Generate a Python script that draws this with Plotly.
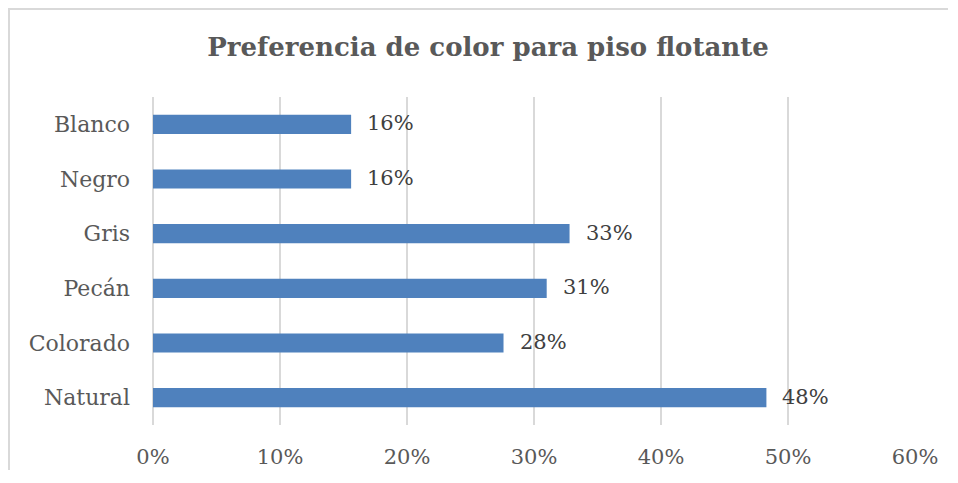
import plotly.graph_objects as go

categories = ["Natural", "Colorado", "Pecán", "Gris", "Negro", "Blanco"]
values = [0.483, 0.276, 0.31, 0.328, 0.156, 0.156]
x_ticks = [0, 0.1, 0.2, 0.3, 0.4, 0.5, 0.6]
x_tick_labels = ["0%", "10%", "20%", "30%", "40%", "50%", "60%"]
title_text = "Preferencia de color para piso flotante"

FONT = "DejaVu Serif"
OFF = 8  # page body margin
W, H = 940, 462
PLOT_L, PLOT_R, PLOT_T, PLOT_B = 153 - OFF, 915 - OFF, 97 - OFF, 425 - OFF
ML, MR, MT, MB = PLOT_L, W - PLOT_R, PLOT_T, H - PLOT_B
PW, PH = W - ML - MR, H - MT - MB

fig = go.Figure()
fig.add_trace(go.Bar(
    x=values, y=categories, orientation="h",
    marker=dict(color="#4F81BD", line=dict(width=0)),
    hoverinfo="x+y",
))

for v, c in zip(values, categories):
    fig.add_annotation(
        x=v, y=c, xref="x", yref="y", text=f"{round(v * 100):.0f}%",
        showarrow=False, xanchor="left", yanchor="middle", xshift=14, yshift=1,
        font=dict(family=FONT, size=21, color="#404040"),
    )

def px_to_paper_x(px):
    return (px - ML) / PW

def px_to_paper_y(py):
    return (H - MB - py) / PH

# chart-area border: only top and left edges fall inside the picture
fig.add_shape(
    type="line", xref="paper", yref="paper",
    x0=px_to_paper_x(0), x1=px_to_paper_x(W),
    y0=px_to_paper_y(1), y1=px_to_paper_y(1),
    line=dict(color="#D9D9D9", width=2), layer="below",
)
fig.add_shape(
    type="line", xref="paper", yref="paper",
    x0=px_to_paper_x(1), x1=px_to_paper_x(1),
    y0=px_to_paper_y(0), y1=px_to_paper_y(H),
    line=dict(color="#D9D9D9", width=2), layer="below",
)

fig.update_layout(
    width=W, height=H,
    margin=dict(l=ML, r=MR, t=MT, b=MB, pad=0, autoexpand=False),
    paper_bgcolor="white", plot_bgcolor="white",
    bargap=0.65,
    showlegend=False,
    title=dict(
        text=f"<b>{title_text}</b>", x=(488 - OFF) / W, xref="container", xanchor="center",
        y=1 - (47 - OFF) / H, yref="container", yanchor="middle",
        font=dict(family=FONT, size=26, color="#595959"),
    ),
    xaxis=dict(
        range=[0, 0.6], tickvals=x_ticks, ticktext=x_tick_labels,
        showgrid=True, gridcolor="#D9D9D9", gridwidth=1.5,
        zeroline=True, zerolinecolor="#D9D9D9", zerolinewidth=1.5,
        showline=False, ticks="", ticklabelstandoff=17, automargin=False,
        tickfont=dict(family=FONT, size=21, color="#595959"),
        fixedrange=True,
    ),
    yaxis=dict(
        categoryorder="array", categoryarray=categories,
        showgrid=False, zeroline=False, showline=False, ticks="",
        ticklabelstandoff=22, automargin=False,
        tickfont=dict(family=FONT, size=22, color="#595959"),
        fixedrange=True,
    ),
)

fig.write_html("out.html", config={"displayModeBar": False})
